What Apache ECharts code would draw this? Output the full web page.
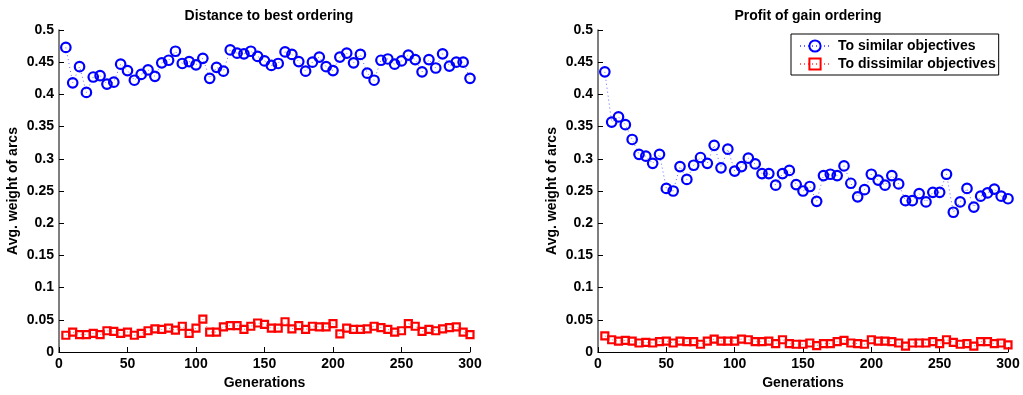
<!DOCTYPE html>
<html>
<head>
<meta charset="utf-8">
<script src="https://cdn.jsdelivr.net/npm/echarts@6/dist/echarts.min.js"></script>
<style>
  html, body { margin: 0; padding: 0; background: #fff; }
  #chart { width: 1023px; height: 395px; }
</style>
</head>
<body>
<div id="chart"></div>
<script>
// Generation numbers sampled every 5 generations
const generations = [5, 10, 15, 20, 25, 30, 35, 40, 45, 50, 55, 60, 65, 70, 75, 80, 85, 90, 95, 100,
  105, 110, 115, 120, 125, 130, 135, 140, 145, 150, 155, 160, 165, 170, 175, 180, 185, 190, 195, 200,
  205, 210, 215, 220, 225, 230, 235, 240, 245, 250, 255, 260, 265, 270, 275, 280, 285, 290, 295, 300];

// "Distance to best ordering"
const bestSimilar = [0.473, 0.418, 0.443, 0.403, 0.427, 0.429, 0.416, 0.419, 0.447, 0.437,
  0.422, 0.431, 0.438, 0.428, 0.449, 0.453, 0.467, 0.448, 0.451, 0.446,
  0.456, 0.425, 0.442, 0.436, 0.469, 0.464, 0.463, 0.467, 0.459, 0.452,
  0.445, 0.448, 0.466, 0.462, 0.451, 0.436, 0.450, 0.458, 0.443, 0.437,
  0.458, 0.464, 0.449, 0.462, 0.433, 0.422, 0.453, 0.455, 0.447, 0.452,
  0.461, 0.454, 0.435, 0.454, 0.441, 0.463, 0.444, 0.450, 0.450, 0.425];
const bestDissimilar = [0.026, 0.031, 0.027, 0.027, 0.029, 0.027, 0.033, 0.032, 0.029, 0.031,
  0.026, 0.029, 0.033, 0.036, 0.035, 0.037, 0.034, 0.040, 0.029, 0.037,
  0.051, 0.031, 0.031, 0.039, 0.041, 0.041, 0.035, 0.040, 0.045, 0.043,
  0.037, 0.037, 0.047, 0.036, 0.041, 0.035, 0.040, 0.039, 0.039, 0.044,
  0.028, 0.037, 0.035, 0.035, 0.036, 0.040, 0.038, 0.035, 0.031, 0.033,
  0.044, 0.040, 0.032, 0.035, 0.033, 0.036, 0.038, 0.039, 0.031, 0.027];

// "Profit of gain ordering"
const gainSimilar = [0.435, 0.357, 0.365, 0.353, 0.330, 0.307, 0.304, 0.293, 0.307, 0.254,
  0.250, 0.288, 0.268, 0.290, 0.302, 0.293, 0.321, 0.286, 0.315, 0.281,
  0.288, 0.301, 0.292, 0.277, 0.277, 0.259, 0.277, 0.282, 0.260, 0.250,
  0.257, 0.234, 0.274, 0.276, 0.274, 0.289, 0.262, 0.241, 0.252, 0.276,
  0.267, 0.259, 0.274, 0.261, 0.235, 0.235, 0.246, 0.233, 0.248, 0.248,
  0.276, 0.217, 0.233, 0.254, 0.225, 0.242, 0.247, 0.253, 0.242, 0.238];
const gainDissimilar = [0.025, 0.019, 0.017, 0.018, 0.017, 0.014, 0.015, 0.014, 0.016, 0.017,
  0.014, 0.017, 0.016, 0.016, 0.012, 0.017, 0.020, 0.017, 0.017, 0.017,
  0.020, 0.019, 0.016, 0.016, 0.017, 0.013, 0.019, 0.013, 0.012, 0.012,
  0.014, 0.010, 0.013, 0.013, 0.016, 0.018, 0.014, 0.013, 0.012, 0.019,
  0.017, 0.017, 0.016, 0.014, 0.009, 0.014, 0.014, 0.014, 0.016, 0.013,
  0.019, 0.015, 0.012, 0.013, 0.009, 0.016, 0.016, 0.013, 0.014, 0.011];

const titles = ['Distance to best ordering', 'Profit of gain ordering'];
const seriesNames = ['To similar objectives', 'To dissimilar objectives'];

const FONT = '"Liberation Sans", Arial, Helvetica, sans-serif';
const BLUE = '#0000ff';
const RED = '#ff0000';

const pairs = (ys) => generations.map((g, i) => [g, ys[i]]);

const grids = [
  { left: 59, right: 553, top: 30, bottom: 43 },
  { left: 598, right: 15, top: 30, bottom: 43 }
];

function xAxis(gridIndex) {
  return {
    type: 'value', gridIndex, min: 0, max: 300, interval: 50,
    name: 'Generations', nameLocation: 'middle', nameGap: 22,
    nameTextStyle: { fontFamily: FONT, fontWeight: 'bold', fontSize: 14, color: '#000' },
    axisLine: { show: true, onZero: false, lineStyle: { color: '#000', width: 1 } },
    axisTick: { show: true, inside: true, length: 5, lineStyle: { color: '#000' } },
    axisLabel: { fontFamily: FONT, fontWeight: 'bold', fontSize: 14, color: '#000', margin: 5 },
    splitLine: { show: false }
  };
}

function yAxis(gridIndex) {
  return {
    type: 'value', gridIndex, min: 0, max: 0.5, interval: 0.05,
    name: 'Avg. weight of arcs', nameLocation: 'middle', nameGap: 39,
    nameTextStyle: { fontFamily: FONT, fontWeight: 'bold', fontSize: 14, color: '#000' },
    axisLine: { show: true, onZero: false, lineStyle: { color: '#555', width: 1.5 } },
    axisTick: { show: true, inside: true, length: 5, lineStyle: { color: '#000' } },
    axisLabel: { fontFamily: FONT, fontWeight: 'bold', fontSize: 14, color: '#000', margin: 5 },
    splitLine: { show: false }
  };
}

function similarSeries(idx, data) {
  return {
    name: seriesNames[0], type: 'line', xAxisIndex: idx, yAxisIndex: idx,
    data: pairs(data), symbol: 'circle', symbolSize: 9.5,
    itemStyle: { color: 'rgba(0,0,0,0)', borderColor: BLUE, borderWidth: 2.2 },
    lineStyle: { color: BLUE, width: 1, type: [1, 3], opacity: 0.6 },
    animation: false, z: 3
  };
}

function dissimilarSeries(idx, data) {
  return {
    name: seriesNames[1], type: 'line', xAxisIndex: idx, yAxisIndex: idx,
    data: pairs(data), symbol: 'rect', symbolSize: 7,
    itemStyle: { color: 'rgba(0,0,0,0)', borderColor: RED, borderWidth: 2.2 },
    lineStyle: { color: RED, width: 1, type: [1, 3], opacity: 0.6 },
    animation: false, z: 3
  };
}

const chart = echarts.init(document.getElementById('chart'), null, { renderer: 'canvas' });
chart.setOption({
  backgroundColor: '#fff',
  animation: false,
  title: [
    { text: titles[0], left: 264, top: 4, textAlign: 'center',
      textStyle: { fontFamily: FONT, fontWeight: 'bold', fontSize: 14, color: '#000' } },
    { text: titles[1], left: 803, top: 4, textAlign: 'center',
      textStyle: { fontFamily: FONT, fontWeight: 'bold', fontSize: 14, color: '#000' } }
  ],
  legend: {
    data: seriesNames,
    orient: 'vertical',
    left: 791, top: 34,
    padding: [5, 3, 4, 8],
    itemGap: 4, itemWidth: 30, itemHeight: 14,
    borderColor: '#000', borderWidth: 1, backgroundColor: '#fff',
    textStyle: { fontFamily: FONT, fontWeight: 'bold', fontSize: 14, color: '#000', padding: [0, 0, 0, 3] }
  },
  grid: grids,
  xAxis: [xAxis(0), xAxis(1)],
  yAxis: [yAxis(0), yAxis(1)],
  series: [
    similarSeries(0, bestSimilar),
    dissimilarSeries(0, bestDissimilar),
    similarSeries(1, gainSimilar),
    dissimilarSeries(1, gainDissimilar)
  ]
});
</script>
</body>
</html>
